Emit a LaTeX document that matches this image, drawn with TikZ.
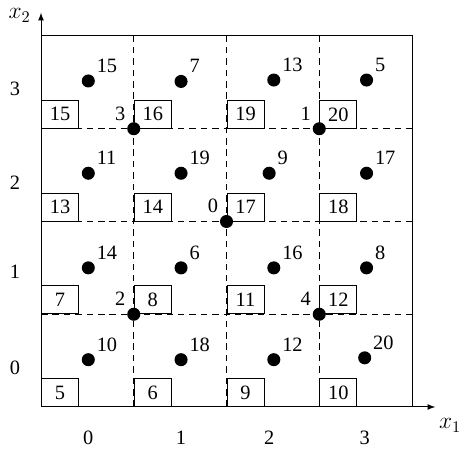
\documentclass[tikz,border=0pt]{standalone}
\usepackage{fontspec}
\setmainfont{Liberation Serif}
\usetikzlibrary{positioning,arrows}
\tikzset{>=latex,
pt/.style={circle,fill,inner sep=0pt,minimum size=8pt},
lbl/.style={inner sep=1.5pt,label distance=0.5pt},
cellbox/.style={draw,fill=white,anchor=south west,inner sep=0pt,
  minimum width=0.8cm,minimum height=0.6cm},
gridline/.style={dash pattern=on 4pt off 3pt},
axlbl/.style={font=\fontsize{14}{16}\selectfont,inner sep=1pt},
}
\begin{document}
\begin{tikzpicture}[x=2cm,y=2cm,font=\fontsize{12.5}{14}\selectfont,line width=0.6pt]
	\useasboundingbox (-0.442,-0.464) rectangle (4.539,4.388);
	\coordinate (O) at (0,0);
	\coordinate (X) at (4.25,0);
	\coordinate (Y) at (0,4.25);
	\coordinate (C) at (4,4);

	% dashed cells
	\foreach \i in {1,2,3} {
		\draw[gridline] (\i,0) -- (\i,4);
		\draw[gridline] (0,\i) -- (4,\i);
	}
	\draw (O) rectangle (C);
	\draw[->] (O) -- (X);
	\draw[->] (O) -- (Y);
	\node[axlbl] (x1) at (4.41,-0.2) {$x_1$};
	\node[axlbl] (x2) at (-0.23,4.22) {$x_2$};

	% tick labels
	\foreach \n/\u in {0/0.51,1/1.51,2/2.46,3/3.49}
		\node (tx\n) at (\u,-0.334) {\n};
	\foreach \n/\v in {0/0.42,1/1.455,2/2.42,3/3.43}
		\node (ty\n) at (-0.28,\v) {\n};

	% cell numbers
	\foreach \n/\i/\j in {5/0/0,6/1/0,9/2/0,10/3/0,7/0/1,8/1/1,11/2/1,12/3/1,
		13/0/2,14/1/2,17/2/2,18/3/2,15/0/3,16/1/3,19/2/3,20/3/3}
		\node[cellbox] (b\n) at (\i,\j) {\n};

	% points
	\foreach \n/\u/\v in {10/0.51/0.51,18/1.51/0.51,12/2.51/0.51,20/3.49/0.53,
		14/0.51/1.5,6/1.51/1.5,16/2.51/1.5,8/3.51/1.5,
		11/0.51/2.52,19/1.51/2.52,9/2.46/2.52,17/3.51/2.52,
		15/0.51/3.515,7/1.51/3.51,13/2.51/3.525,5/3.51/3.525}
		\node[pt,label={[lbl]45:\n}] (p\n) at (\u,\v) {};
	\foreach \n/\u/\v in {0/2/2,1/3/3,2/1/1,3/1/3,4/3/1}
		\node[pt,label={[lbl]135:\n}] (q\n) at (\u,\v) {};
\end{tikzpicture}
\end{document}
